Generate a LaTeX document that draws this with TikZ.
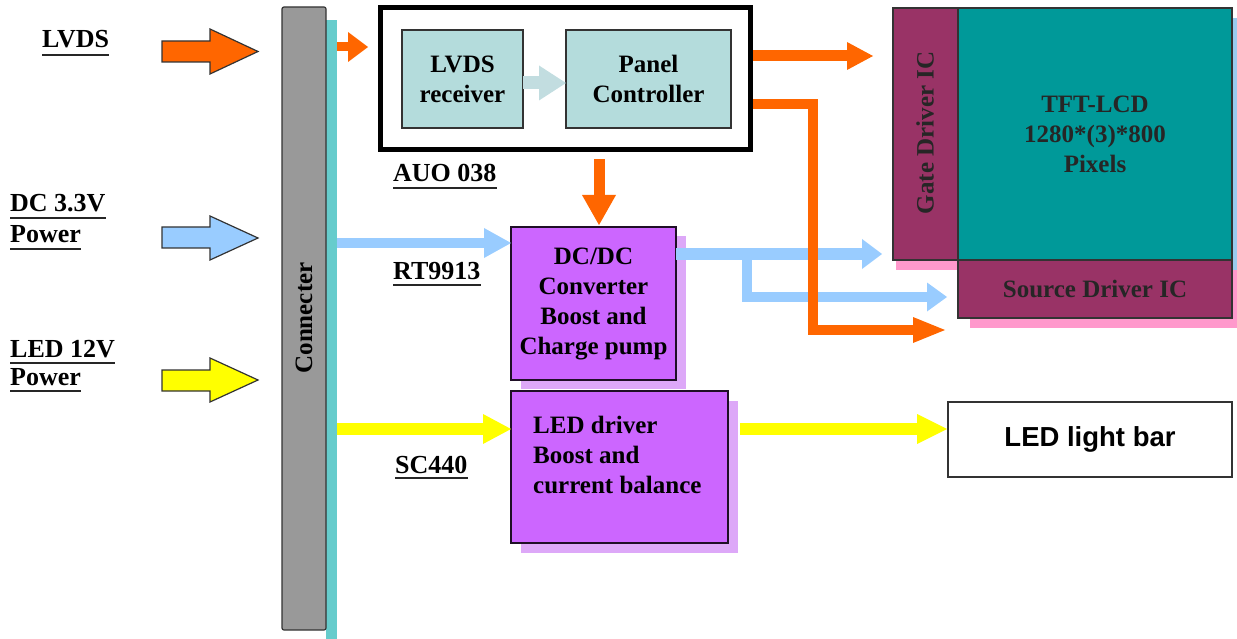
\documentclass[tikz,border=0pt]{standalone}
\usepackage{fontspec}
\setmainfont{Liberation Serif}
\newfontfamily\arialfont{Liberation Sans}
\usetikzlibrary{arrows.meta}
\definecolor{orng}{HTML}{FF6600}
\definecolor{lblue}{HTML}{99CCFF}
\definecolor{yel}{HTML}{FFFF00}
\definecolor{gry}{HTML}{999999}
\definecolor{cyansh}{HTML}{66CCCC}
\definecolor{recvfill}{HTML}{B4DCDC}
\definecolor{lgtb}{HTML}{C2DDE0}
\definecolor{purp}{HTML}{CC66FF}
\definecolor{purpsh}{HTML}{DDA8F8}
\definecolor{maroon}{HTML}{993366}
\definecolor{tealc}{HTML}{009999}
\definecolor{pinksh}{HTML}{FF99CC}
\definecolor{tftsh}{HTML}{99CCEE}
\begin{document}
\begin{tikzpicture}[x=1pt,y=-1pt,
  tf/.style={font=\fontsize{25}{30}\selectfont\bfseries},
  lf/.style={font=\fontsize{26}{30}\selectfont\bfseries},
  lbl/.style={lf, inner sep=0pt, anchor=base west},
  ul/.style={line width=1.8pt, black!85},
  boxs/.style={rectangle, inner sep=0pt, outer sep=0pt, draw=black!80, line width=1.2pt},
  shad/.style={rectangle, inner sep=0pt, outer sep=0pt, draw=none},
  txt/.style={tf, align=center, inner sep=0pt},
  blkarrow/.style={draw=black!80, line width=1.2pt, line join=miter},
  flow/.style n args={4}{draw=#1, line width=#2, line join=miter,
     -{Triangle[length=#3 0, width=#4 0, line width=0pt]}},
]
\useasboundingbox (0,0) rectangle (1237,639);

% ---- left labels ----
\node[lbl] (lvdslbl) at (42,48) {LVDS};
\draw[ul] ([yshift=-7pt]lvdslbl.base west) -- ([yshift=-7pt]lvdslbl.base east);
\node[lbl] (dclbl) at (10,212) {DC 3.3V};
\draw[ul] ([yshift=-6pt]dclbl.base west) -- ([yshift=-6pt]dclbl.base east);
\node[lbl] (dcpw) at (10,243) {Power};
\draw[ul] ([yshift=-6pt]dcpw.base west) -- ([yshift=-6pt]dcpw.base east);
\node[lbl] (ledlbl) at (10,357) {LED 12V};
\draw[ul] ([yshift=-6pt]ledlbl.base west) -- ([yshift=-6pt]ledlbl.base east);
\node[lbl] (ledpw) at (10,385) {Power};
\draw[ul] ([yshift=-6pt]ledpw.base west) -- ([yshift=-6pt]ledpw.base east);

% ---- block input arrows ----
\draw[blkarrow, fill=orng] (162,41) -- (210,41) -- (210,29) -- (258,51.5) -- (210,74) -- (210,62) -- (162,62) -- cycle;
\draw[blkarrow, fill=lblue] (162,227) -- (210,227) -- (210,216) -- (258,238) -- (210,260) -- (210,248) -- (162,248) -- cycle;
\draw[blkarrow, fill=yel] (162,370) -- (210,370) -- (210,358) -- (258,380) -- (210,402) -- (210,391) -- (162,391) -- cycle;

% ---- connector bar ----
\node[shad, fill=cyansh, minimum width=11pt, minimum height=619pt] (connshadow) at (331.5,329.5) {};
\node[boxs, fill=gry, rounded corners=2pt, minimum width=44pt, minimum height=623pt] (conn) at (304,318.5) {};
\node[tf, rotate=90, inner sep=0pt] (conntxt) at (304,318) {Connecter};

% ---- AUO block ----
\node[rectangle, inner sep=0pt, outer sep=0pt, draw=black, line width=5pt, minimum width=370pt, minimum height=142pt] (auo) at (565.5,78.5) {};
\node[boxs, fill=recvfill, minimum width=121pt, minimum height=98pt, txt] (recv) at (462.5,79) {LVDS\\receiver};
\node[boxs, fill=recvfill, minimum width=165pt, minimum height=98pt, txt] (panel) at (648.5,79) {Panel\\Controller};
\node[lbl] (auolbl) at (393,182) {AUO 038};
\draw[ul] ([yshift=-6pt]auolbl.base west) -- ([yshift=-6pt]auolbl.base east);

% ---- DC/DC and LED driver ----
\node[shad, fill=purpsh, minimum width=165pt, minimum height=153pt] (dcdcsh) at (603.5,312.5) {};
\node[boxs, fill=purp, draw=black!85!purp, minimum width=165pt, minimum height=153pt, txt] (dcdc) at (593.5,303.5) {DC/DC\\Converter\\Boost and\\Charge pump};
\node[shad, fill=purpsh, minimum width=217pt, minimum height=152pt] (ledsh) at (629.5,477) {};
\node[boxs, fill=purp, draw=black!85!purp, minimum width=217pt, minimum height=152pt] (led) at (619.5,467) {};
\node[txt, align=left, anchor=north west] (ledtxt) at (533,416) {LED driver\\Boost and\\current balance};
\node[lbl] (rtlbl) at (393,279) {RT9913};
\draw[ul] ([yshift=-6pt]rtlbl.base west) -- ([yshift=-6pt]rtlbl.base east);
\node[lbl] (sclbl) at (395,473) {SC440};
\draw[ul] ([yshift=-5pt]sclbl.base west) -- ([yshift=-5pt]sclbl.base east);

% ---- panel ----
\node[shad, fill=tftsh, minimum width=274pt, minimum height=252pt] (tftsh) at (1107,144) {};
\node[shad, fill=pinksh, minimum width=65pt, minimum height=252pt] (gatesh) at (928,144) {};
\node[shad, fill=pinksh, minimum width=274pt, minimum height=58pt] (sourcesh) at (1107,299) {};
\node[boxs, fill=maroon, minimum width=65pt, minimum height=252pt] (gate) at (925.5,134) {};
\node[tf, rotate=90, inner sep=0pt, text=black!85] (gatetxt) at (925,133) {Gate Driver IC};
\node[boxs, fill=tealc, minimum width=274pt, minimum height=252pt, txt, text=black!85] (tft) at (1095,134) {TFT-LCD\\1280*(3)*800\\Pixels};
\node[boxs, fill=maroon, minimum width=274pt, minimum height=58pt, txt, text=black!85] (source) at (1095,289) {Source Driver IC};

\node[boxs, fill=white, minimum width=284pt, minimum height=75pt, font=\arialfont\fontsize{27.5}{30}\selectfont\bfseries] (bar) at (1090,439.5) {LED light bar};

% ---- connectors ----
\draw[flow={orng}{9pt}{20pt}{30pt}, shorten >=12.5pt] (connshadow.east |- 0,47) -- (auo.west |- 0,47);
\draw[flow={lgtb}{13pt}{27pt}{35pt}] (recv.east |- 0,83) -- (panel.west |- 0,83);
\draw[flow={orng}{11pt}{26pt}{28pt}, shorten <=2.5pt, shorten >=20pt] (auo.east |- 0,56) -- (gate.west |- 0,56);
\draw[flow={orng}{11pt}{30pt}{34pt}, shorten <=10pt, shorten >=2pt] (auo.south -| 599,0) -- (dcdc.north -| 599,0);
\draw[flow={lblue}{10pt}{27pt}{30pt}] (connshadow.east |- 0,243) -- (dcdc.west |- 0,243);
\draw[flow={lblue}{12pt}{20pt}{30pt}, shorten >=11pt] (dcdc.east |- 0,254) -- (gate.west |- 0,254);
\draw[flow={lblue}{10pt}{20pt}{29pt}, shorten >=11pt] (747,249) -- (747,297) -- (source.west |- 0,297);
\draw[flow={orng}{10pt}{32pt}{26pt}, shorten <=2.5pt, shorten >=13pt] (auo.east |- 0,104) -- (813,104) -- (813,330) -- (source.west |- 0,330);
\draw[flow={yel}{12pt}{28pt}{30pt}] (connshadow.east |- 0,429) -- (led.west |- 0,429);
\draw[flow={yel}{12pt}{30pt}{30pt}, shorten <=12pt, shorten >=1pt] (led.east |- 0,429) -- (bar.west |- 0,429);
\end{tikzpicture}
\end{document}
